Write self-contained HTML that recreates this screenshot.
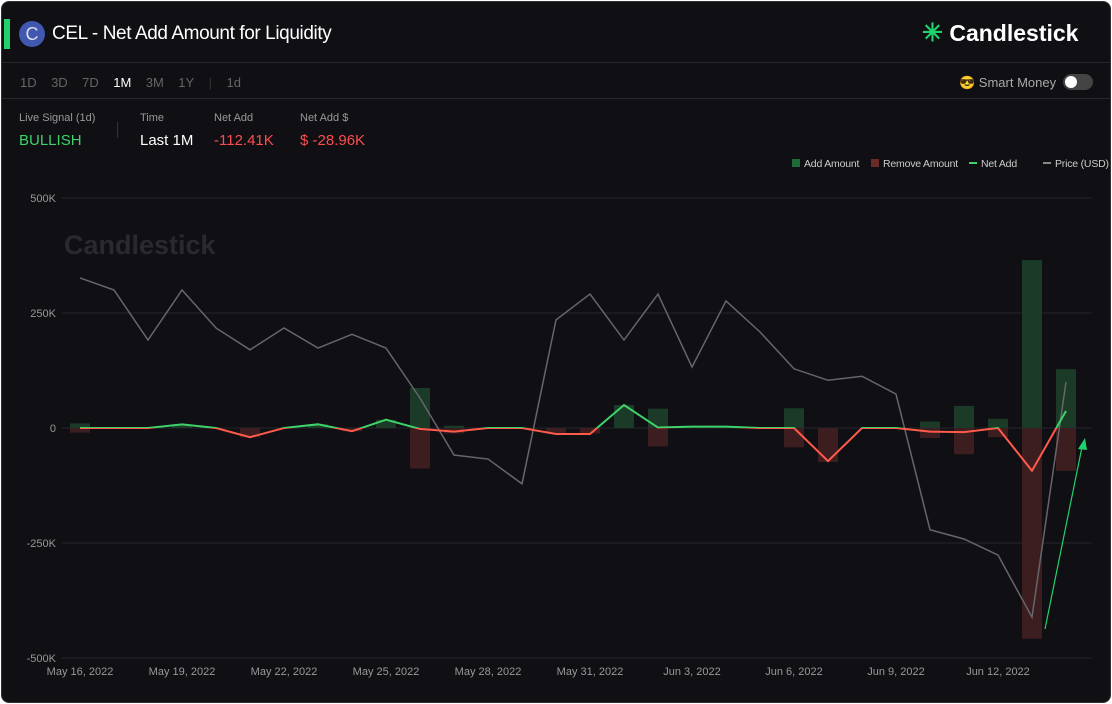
<!DOCTYPE html>
<html><head><meta charset="utf-8"><style>
body{margin:0;background:#fff;font-family:"Liberation Sans",sans-serif;}
#frame{position:absolute;left:1px;top:1px;width:1108px;height:700px;background:#0f0f14;border-radius:8px;border:1px solid #333;overflow:hidden;}
.t{position:absolute;white-space:nowrap;}
</style></head><body>
<div id="frame">
<div class="t" style="left:2px;top:17px;width:6px;height:30px;background:#21d26b"></div>
<div class="t" style="left:17px;top:19px;width:26px;height:26px;border-radius:50%;background:#4058b0;color:#dde;font-size:18px;text-align:center;line-height:26px">C</div>
<div class="t" style="left:50px;top:21px;font-size:19px;letter-spacing:-0.4px;color:#fff">CEL - Net Add Amount for Liquidity</div>
<div class="t" style="left:920px;top:16px;font-size:23px;font-weight:bold;color:#fff"><span style="color:#21d26b;font-size:25px">✳</span> Candlestick</div>
<div class="t" style="left:0;top:60px;width:1108px;height:1px;background:#26262c"></div>
<div class="t" style="left:0;top:96px;width:1108px;height:1px;background:#26262c"></div>
<div class="t" style="left:18px;top:73px;font-size:13px;color:#666;word-spacing:0">
<span>1D</span>&nbsp;&nbsp;&nbsp; <span>3D</span>&nbsp;&nbsp;&nbsp; <span>7D</span>&nbsp;&nbsp;&nbsp; <span style="color:#fff">1M</span>&nbsp;&nbsp;&nbsp; <span>3M</span>&nbsp;&nbsp;&nbsp; <span>1Y</span>&nbsp;&nbsp;&nbsp; <span style="color:#333">|</span>&nbsp;&nbsp;&nbsp; <span>1d</span></div>
<div class="t" style="left:957px;top:73px;font-size:13px;color:#aaa">😎 Smart Money</div>
<div class="t" style="left:1061px;top:72px;width:30px;height:16px;border-radius:8px;background:#444"><div style="position:absolute;left:2px;top:2px;width:12px;height:12px;border-radius:50%;background:#fff"></div></div>
<div class="t" style="left:17px;top:110px;font-size:11px;color:#999">Live Signal (1d)</div>
<div class="t" style="left:17px;top:130px;font-size:15px;color:#3ed36a">BULLISH</div>
<div class="t" style="left:115px;top:120px;width:1px;height:16px;background:#333"></div>
<div class="t" style="left:138px;top:110px;font-size:11px;color:#999">Time</div>
<div class="t" style="left:138px;top:130px;font-size:15px;color:#fff">Last 1M</div>
<div class="t" style="left:212px;top:110px;font-size:11px;color:#999">Net Add</div>
<div class="t" style="left:212px;top:130px;font-size:15px;color:#ff4d4d">-112.41K</div>
<div class="t" style="left:298px;top:110px;font-size:11px;color:#999">Net Add $</div>
<div class="t" style="left:298px;top:130px;font-size:15px;color:#ff4d4d">$ -28.96K</div>
<svg id="chart" width="1108" height="700" style="position:absolute;left:0;top:0"></svg>
</div>
<script>
const dates=["May 16, 2022","May 19, 2022","May 22, 2022","May 25, 2022","May 28, 2022","May 31, 2022","Jun 3, 2022","Jun 6, 2022","Jun 9, 2022","Jun 12, 2022"];
const addAmt=[10,0,0,8,0,0,0,8,0,18,87,5,0,0,0,0,50,42,3,3,0,43,0,0,0,14,48,20,365,128];
const removeAmt=[-10,0,0,0,0,-20,0,0,-7,0,-88,-12,0,0,-12,-12,0,-40,0,0,0,-42,-74,0,0,-22,-57,-20,-458,-93];
const netAdd=[0,0,0,8,0,-20,0,8,-7,18,-2,-8,0,0,-13,-13,50,1,3,3,0,0,-72,0,0,-8,-9,0,-93,37];
const price=[1.061,1.040,0.953,1.040,0.974,0.936,0.974,0.939,0.963,0.939,0.852,0.753,0.746,0.703,0.988,1.033,0.953,1.033,0.906,1.021,0.967,0.903,0.883,0.890,0.859,0.623,0.607,0.579,0.471,0.880];
const yTicks=[500,250,0,-250,-500];
const yTickLabels=["500K","250K","0","-250K","-500K"];
const svg=document.getElementById('chart');
const NS='http://www.w3.org/2000/svg';
const x=i=>79+34*i-1;
const y=v=>427-v*0.46-1;
const yp=p=>657-(p-0.4)/0.8*460-1;
function el(t,a,p){const e=document.createElementNS(NS,t);for(const k in a)e.setAttribute(k,a[k]);(p||svg).appendChild(e);return e;}
const defs=el('defs',{});
const cu=el('clipPath',{id:'cu'},defs);el('rect',{x:0,y:0,width:1108,height:y(0)},cu);
const cd=el('clipPath',{id:'cd'},defs);el('rect',{x:0,y:y(0),width:1108,height:700},cd);
yTicks.forEach((v,i)=>{
 const g=el('line',{x1:60,x2:1090,y1:y(v),y2:y(v),stroke:'#26262c','stroke-width':1});
 
 const t=el('text',{x:54,y:y(v)+4,'text-anchor':'end','font-size':11,fill:'#999','font-family':'Liberation Sans'});
 t.textContent=yTickLabels[i];
 
});
const wm=el('text',{x:62,y:252,'font-size':27,'font-weight':'bold',fill:'#2a2a2e','font-family':'Liberation Sans'});wm.textContent='Candlestick';

dates.forEach((d,i)=>{
 const t=el('text',{x:x(i*3),y:673,'text-anchor':'middle','font-size':11,fill:'#999','font-family':'Liberation Sans'});t.textContent=d;
 
});
addAmt.forEach((v,i)=>{
 const r=el('rect',{x:x(i)-10,y:y(v),width:20,height:y(0)-y(v),fill:'#1b3a27'});
 
});
removeAmt.forEach((v,i)=>{
 const r=el('rect',{x:x(i)-10,y:y(0),width:20,height:y(v)-y(0),fill:'#3d1e20'});
 
});
const pp=el('polyline',{points:price.map((p,i)=>x(i)+','+yp(p)).join(' '),fill:'none',stroke:'#66666b','stroke-width':1.5});

const np=netAdd.map((v,i)=>x(i)+','+y(v)).join(' ');
const n1=el('polyline',{points:np,fill:'none',stroke:'#3ed36a','stroke-width':2,'clip-path':'url(#cu)'});

const n2=el('polyline',{points:np,fill:'none',stroke:'#ff5a4a','stroke-width':2,'clip-path':'url(#cd)'});

const ar=el('line',{x1:1043,y1:627,x2:1080,y2:445,stroke:'#21d26b','stroke-width':1.2});

el('polygon',{points:'1083,436 1076,447 1085,448',fill:'#21d26b'});
const leg=[['Add Amount','#1f6b3a','rect'],['Remove Amount','#6b2a2a','rect'],['Net Add','#3ed36a','line'],['Price (USD)','#888','line']];
const lx=[790,869,967,1041];
leg.forEach((l,i)=>{
 if(l[2]=='rect')el('rect',{x:lx[i],y:157,width:8,height:8,fill:l[1]});
 else el('rect',{x:lx[i],y:160,width:8,height:2,fill:l[1]});
 const t=el('text',{x:lx[i]+12,y:165,'font-size':10.5,'letter-spacing':'-0.2',fill:'#ccc','font-family':'Liberation Sans'});t.textContent=l[0];
 
});
</script>
</body></html>
